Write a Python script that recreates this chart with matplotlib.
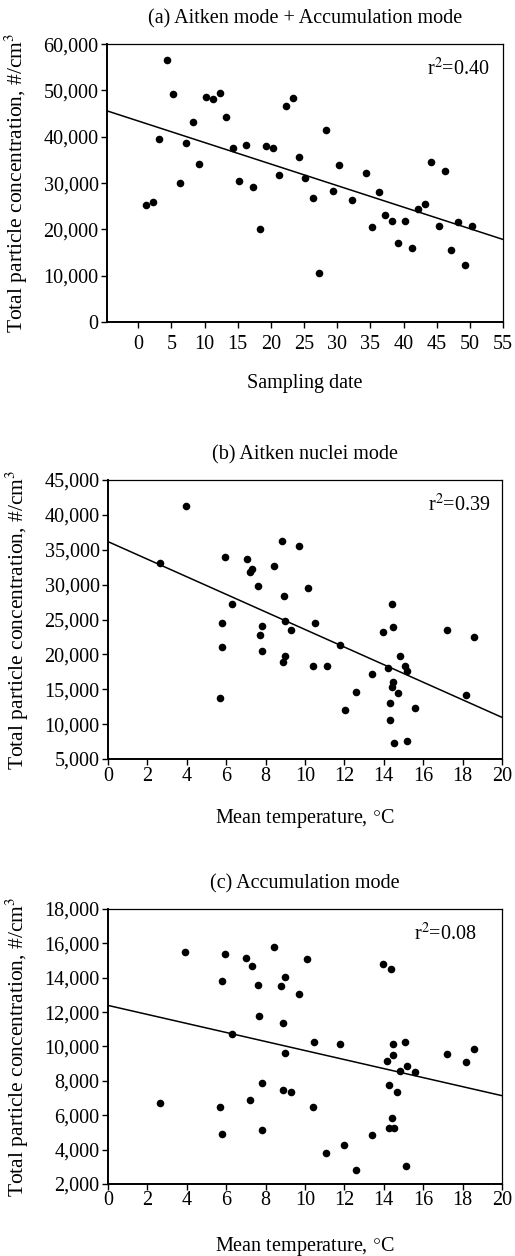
import matplotlib.pyplot as plt
from matplotlib.ticker import FuncFormatter

plt.rcParams['font.family'] = ['Liberation Serif', 'DejaVu Serif']
plt.rcParams['mathtext.fontset'] = 'stix'

# (a) Aitken + Accumulation mode vs sampling date
date_a = [1.2, 2.3, 3.2, 4.4, 5.3, 6.3, 7.2, 8.2, 9.2, 10.2, 11.35, 12.3, 13.3, 14.3,
          15.2, 16.3, 17.3, 18.3, 19.3, 20.3, 21.3, 22.25, 23.3, 24.3, 25.2, 26.3,
          27.2, 28.3, 29.3, 30.3, 32.2, 34.3, 35.3, 36.3, 37.2, 38.2, 39.2, 40.2,
          41.2, 42.2, 43.3, 44.2, 45.3, 46.2, 47.2, 48.2, 49.2, 50.25]
conc_a = [25300, 25900, 39500, 56500, 49200, 30100, 38700, 43200, 34200, 48600,
          48100, 49500, 44200, 37600, 30500, 38300, 29100, 20000, 38100, 37600,
          31700, 46700, 48300, 35600, 31200, 26800, 10600, 41400, 28300, 33800,
          26400, 32200, 20500, 28100, 23200, 21800, 17100, 21800, 15900, 24500,
          25400, 34500, 20800, 32700, 15600, 21700, 12300, 20700]
fit_a = (43400, -465)

# (b) Aitken nuclei mode vs mean temperature
temp_b = [2.66, 3.94, 5.94, 5.80, 5.80, 5.70, 6.31, 7.04, 7.31, 7.22, 7.63, 7.80,
          7.72, 7.80, 8.44, 8.83, 8.93, 9.00, 9.00, 8.90, 9.31, 9.71, 10.14, 10.49,
          10.41, 11.1, 11.79, 12.01, 12.61, 13.42, 13.96, 14.2, 14.4, 14.49, 14.49,
          14.4, 14.71, 14.3, 14.3, 14.5, 15.18, 14.81, 15.08, 15.18, 15.6, 17.21,
          18.19, 18.6]
conc_b = [33070, 41230, 34020, 24570, 20990, 13730, 27190, 33640, 32300, 31830,
          29820, 24090, 22710, 20510, 32690, 36310, 28440, 24810, 19700, 18940,
          23520, 35550, 29490, 24570, 18270, 18270, 21320, 11970, 14550, 17120,
          23180, 18030, 27190, 23900, 15980, 15260, 14450, 12970, 10630, 7290,
          7580, 19700, 18270, 17650, 12300, 23520, 14210, 22520]
fit_b = (36170, -1260)

# (c) Accumulation mode vs mean temperature
temp_c = [2.63, 3.93, 5.92, 5.8, 5.68, 5.81, 6.31, 7.02, 7.29, 7.59, 7.68, 7.2,
          7.8, 7.8, 8.42, 8.78, 8.98, 8.9, 8.98, 8.88, 9.29, 9.69, 10.12, 10.47,
          10.39, 11.07, 11.78, 12.0, 12.58, 13.41, 13.98, 14.39, 14.17, 14.47,
          14.49, 14.27, 14.66, 14.41, 14.27, 14.53, 14.8, 15.1, 15.17, 15.58,
          15.15, 17.2, 18.19, 18.59]
conc_c = [6710, 15480, 15360, 13790, 6480, 4930, 10740, 15150, 14700, 13580,
          11750, 6870, 7890, 5160, 15790, 13500, 14060, 11370, 9620, 7490, 7330,
          13070, 15090, 10240, 6480, 3800, 10140, 4290, 2790, 4870, 14820, 14510,
          9140, 10160, 9520, 7740, 7330, 5820, 5240, 5240, 8550, 10240, 8840,
          8510, 3030, 9540, 9110, 9850]
fit_c = (12390, -262.5)

panels = [
    dict(x=date_a, y=conc_a, fit=fit_a, r2="0.40",
         title="(a) Aitken mode + Accumulation mode", xlabel="Sampling date",
         xlim=(-4.7, 55), xticks=range(0, 56, 5), ylim=(0, 60000),
         yticks=range(0, 60001, 10000), rect=[0.2078, 0.7436, 0.769, 0.2213],
         xpad=5.5, lpad=14, r2pos=(0.967, 0.91)),
    dict(x=temp_b, y=conc_b, fit=fit_b, r2="0.39",
         title="(b) Aitken nuclei mode", xlabel="Mean temperature, $\\degree$C",
         xlim=(0, 20), xticks=range(0, 21, 2), ylim=(5000, 45000),
         yticks=range(5000, 45001, 5000), rect=[0.2097, 0.3957, 0.765, 0.2221],
         xpad=2, lpad=15, r2pos=(0.97, 0.91)),
    dict(x=temp_c, y=conc_c, fit=fit_c, r2="0.08",
         title="(c) Accumulation mode", xlabel="Mean temperature, $\\degree$C",
         xlim=(0, 20), xticks=range(0, 21, 2), ylim=(2000, 18000),
         yticks=range(2000, 18001, 2000), rect=[0.2097, 0.0573, 0.765, 0.219],
         xpad=1, lpad=18, r2pos=(0.937, 0.91)),
]

fig = plt.figure(figsize=(5.15, 12.56), dpi=100)

for p in panels:
    ax = fig.add_axes(p["rect"])
    ax.scatter(p["x"], p["y"], s=30, color="black", zorder=3, linewidths=0)
    x0, x1 = p["xlim"]
    b0, b1 = p["fit"]
    ax.plot([x0, x1], [b0 + b1 * x0, b0 + b1 * x1], color="black", lw=1.1)
    ax.set_xlim(x0, x1)
    ax.set_ylim(*p["ylim"])
    ax.set_xticks(list(p["xticks"]))
    ax.set_yticks(list(p["yticks"]))
    ax.yaxis.set_major_formatter(FuncFormatter(lambda v, pos: f"{int(v):,}"))
    ax.tick_params(direction="out", length=4, width=1, labelsize=14.5, color="black")
    ax.tick_params(axis="x", pad=p["xpad"])
    ax.tick_params(axis="y", pad=2)
    for side in ["left", "bottom"]:
        ax.spines[side].set_linewidth(1.4)
    for side in ["top", "right"]:
        ax.spines[side].set_linewidth(0.9)
    ax.set_title(p["title"], fontsize=14.5, pad=15)
    ax.set_xlabel(p["xlabel"], fontsize=14.5, labelpad=p["lpad"])
    ax.set_ylabel("Total particle concentration, #/cm$^3$", fontsize=15.5)
    ax.yaxis.set_label_coords(-0.195, 0.5)
    ax.text(p["r2pos"][0], p["r2pos"][1], "r$^2$=" + p["r2"], transform=ax.transAxes,
            ha="right", va="center", fontsize=14.5)

fig.savefig("out.png", dpi=100)
